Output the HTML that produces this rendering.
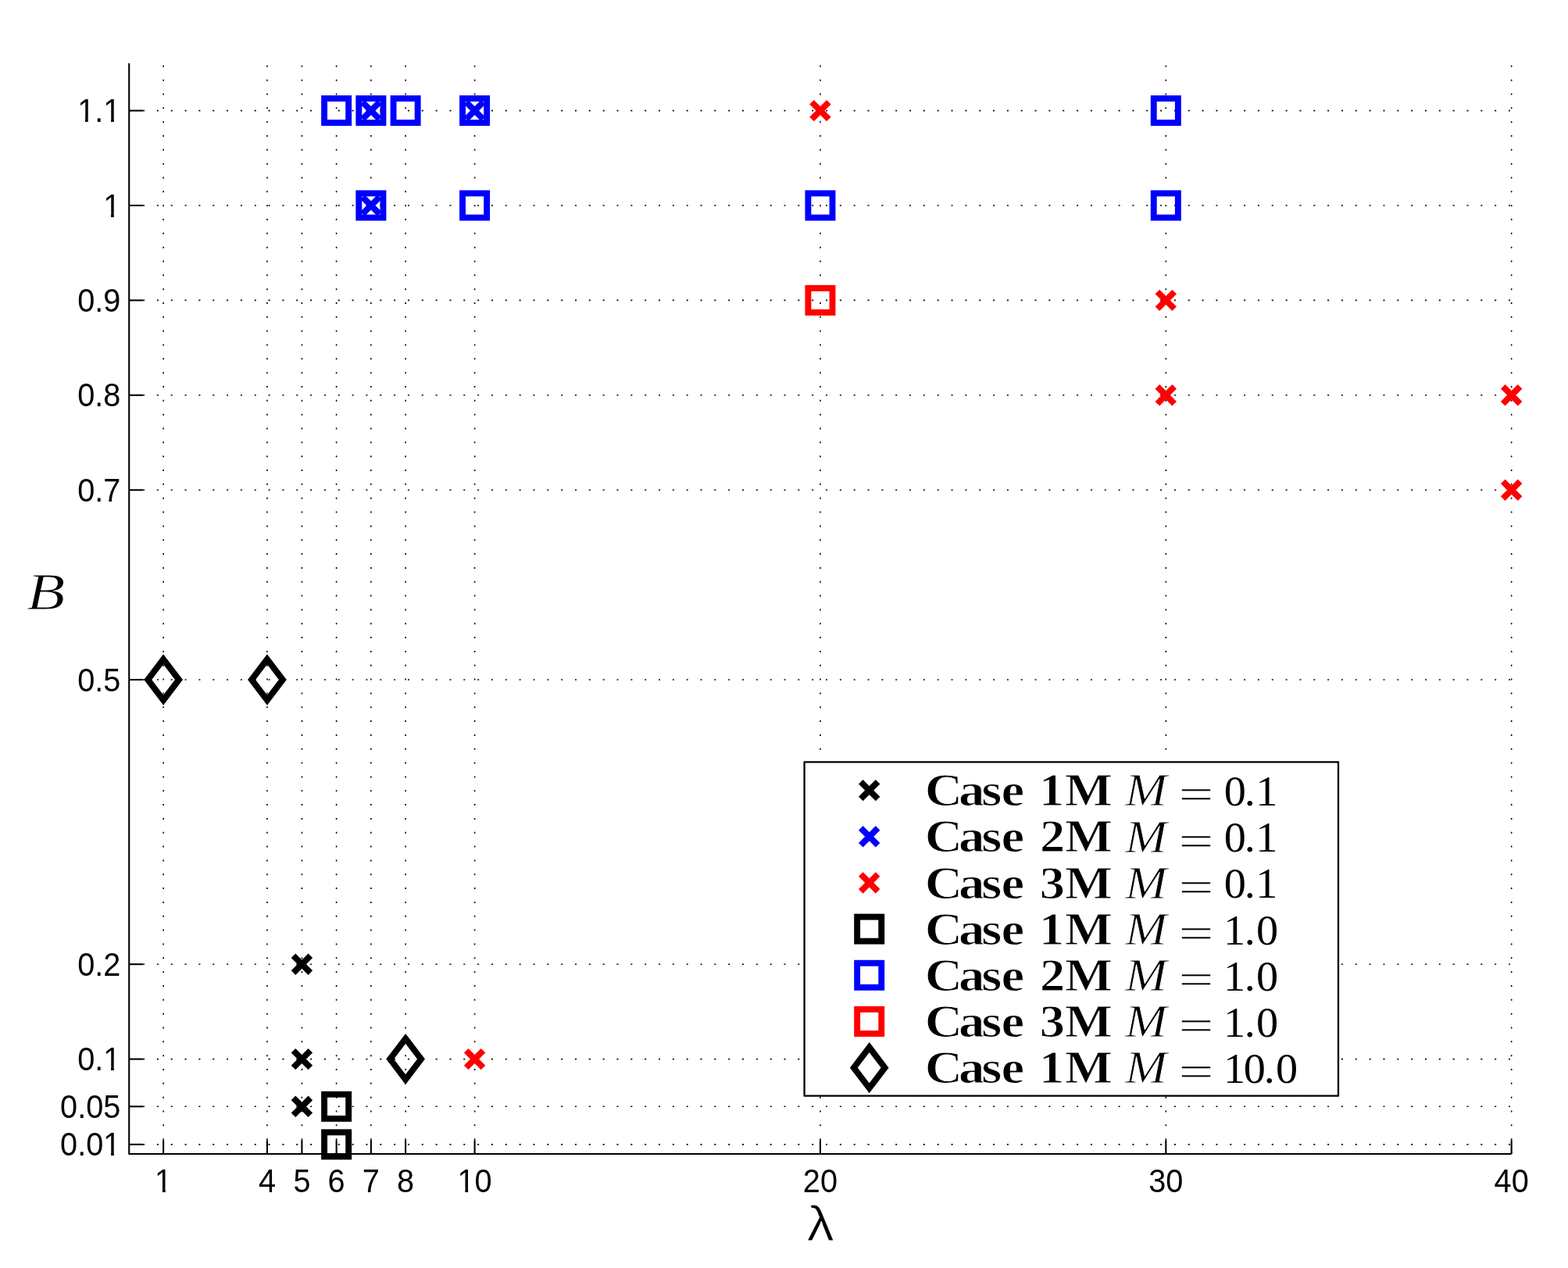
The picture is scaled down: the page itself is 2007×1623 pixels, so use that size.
<!DOCTYPE html>
<html lang="en"><head><meta charset="utf-8"><title>B versus λ</title>
<style>html,body{margin:0;padding:0;background:#fff;}svg{display:block;}.tk{font-family:"Liberation Sans",sans-serif;font-size:42.6px;fill:#000;}.bf{font-family:"Liberation Serif",serif;font-weight:bold;fill:#000;}.rm{font-family:"Liberation Serif",serif;fill:#000;}.it{font-family:"Liberation Serif",serif;font-style:italic;fill:#000;}.sf{font-family:"Liberation Sans",sans-serif;fill:#000;}</style></head><body>
<svg width="2007" height="1623" viewBox="0 0 2007 1623">
<rect width="2007" height="1623" fill="#ffffff"/>
<g stroke="#000" stroke-width="1.6" stroke-dasharray="2 15.836" fill="none">
<line x1="209.12" y1="1477" x2="209.12" y2="80.9"/>
<line x1="341.95" y1="1477" x2="341.95" y2="80.9"/>
<line x1="386.41" y1="1477" x2="386.41" y2="80.9"/>
<line x1="430.64" y1="1477" x2="430.64" y2="80.9"/>
<line x1="474.88" y1="1477" x2="474.88" y2="80.9"/>
<line x1="519.11" y1="1477" x2="519.11" y2="80.9"/>
<line x1="607.59" y1="1477" x2="607.59" y2="80.9"/>
<line x1="1049.94" y1="1477" x2="1049.94" y2="80.9"/>
<line x1="1492.3" y1="1477" x2="1492.3" y2="80.9"/>
<line x1="1934.65" y1="1477" x2="1934.65" y2="80.9"/>
<line x1="165.23" y1="1464.86" x2="1934.65" y2="1464.86"/>
<line x1="165.23" y1="1416.3" x2="1934.65" y2="1416.3"/>
<line x1="165.23" y1="1355.6" x2="1934.65" y2="1355.6"/>
<line x1="165.23" y1="1234.2" x2="1934.65" y2="1234.2"/>
<line x1="165.23" y1="870" x2="1934.65" y2="870"/>
<line x1="165.23" y1="627.2" x2="1934.65" y2="627.2"/>
<line x1="165.23" y1="505.8" x2="1934.65" y2="505.8"/>
<line x1="165.23" y1="384.4" x2="1934.65" y2="384.4"/>
<line x1="165.23" y1="263" x2="1934.65" y2="263"/>
<line x1="165.23" y1="141.6" x2="1934.65" y2="141.6"/>
</g>
<g stroke="#000" stroke-width="2.1" fill="none">
<path d="M165.23 80.9L165.23 1477L1934.65 1477" stroke-linejoin="round"/>
<line x1="209.12" y1="1477" x2="209.12" y2="1459.3"/>
<line x1="341.95" y1="1477" x2="341.95" y2="1459.3"/>
<line x1="386.41" y1="1477" x2="386.41" y2="1459.3"/>
<line x1="430.64" y1="1477" x2="430.64" y2="1459.3"/>
<line x1="474.88" y1="1477" x2="474.88" y2="1459.3"/>
<line x1="519.11" y1="1477" x2="519.11" y2="1459.3"/>
<line x1="607.59" y1="1477" x2="607.59" y2="1459.3"/>
<line x1="1049.94" y1="1477" x2="1049.94" y2="1459.3"/>
<line x1="1492.3" y1="1477" x2="1492.3" y2="1459.3"/>
<line x1="1934.65" y1="1477" x2="1934.65" y2="1459.3"/>
<line x1="165.23" y1="1464.86" x2="182.93" y2="1464.86"/>
<line x1="165.23" y1="1416.3" x2="182.93" y2="1416.3"/>
<line x1="165.23" y1="1355.6" x2="182.93" y2="1355.6"/>
<line x1="165.23" y1="1234.2" x2="182.93" y2="1234.2"/>
<line x1="165.23" y1="870" x2="182.93" y2="870"/>
<line x1="165.23" y1="627.2" x2="182.93" y2="627.2"/>
<line x1="165.23" y1="505.8" x2="182.93" y2="505.8"/>
<line x1="165.23" y1="384.4" x2="182.93" y2="384.4"/>
<line x1="165.23" y1="263" x2="182.93" y2="263"/>
<line x1="165.23" y1="141.6" x2="182.93" y2="141.6"/>
</g>
<g class="tk">
<text transform="translate(154.3 1479.41) scale(0.9320 1)" text-anchor="end">0.01</text>
<text transform="translate(154.3 1430.85) scale(0.9320 1)" text-anchor="end">0.05</text>
<text transform="translate(154.3 1370.15) scale(0.9320 1)" text-anchor="end">0.1</text>
<text transform="translate(154.3 1248.75) scale(0.9320 1)" text-anchor="end">0.2</text>
<text transform="translate(154.3 884.55) scale(0.9320 1)" text-anchor="end">0.5</text>
<text transform="translate(154.3 641.75) scale(0.9320 1)" text-anchor="end">0.7</text>
<text transform="translate(154.3 520.35) scale(0.9320 1)" text-anchor="end">0.8</text>
<text transform="translate(154.3 398.95) scale(0.9320 1)" text-anchor="end">0.9</text>
<text transform="translate(154.3 277.55) scale(0.9320 1)" text-anchor="end">1</text>
<text transform="translate(154.3 156.15) scale(0.9320 1)" text-anchor="end">1.1</text>
<text transform="translate(209.12 1525.6) scale(0.9320 1)" text-anchor="middle">1</text>
<text transform="translate(341.95 1525.6) scale(0.9320 1)" text-anchor="middle">4</text>
<text transform="translate(386.41 1525.6) scale(0.9320 1)" text-anchor="middle">5</text>
<text transform="translate(430.64 1525.6) scale(0.9320 1)" text-anchor="middle">6</text>
<text transform="translate(474.88 1525.6) scale(0.9320 1)" text-anchor="middle">7</text>
<text transform="translate(519.11 1525.6) scale(0.9320 1)" text-anchor="middle">8</text>
<text transform="translate(607.59 1525.6) scale(0.9320 1)" text-anchor="middle">10</text>
<text transform="translate(1049.94 1525.6) scale(0.9320 1)" text-anchor="middle">20</text>
<text transform="translate(1492.3 1525.6) scale(0.9320 1)" text-anchor="middle">30</text>
<text transform="translate(1934.65 1525.6) scale(0.9320 1)" text-anchor="middle">40</text>
</g>
<g fill="#ffffff">
<rect x="134.16" y="1474.53" width="7.9" height="6.08"/>
<rect x="145.86" y="1474.53" width="7.83" height="6.08"/>
<rect x="134.16" y="1365.27" width="7.9" height="6.08"/>
<rect x="145.86" y="1365.27" width="7.83" height="6.08"/>
<rect x="134.16" y="272.67" width="7.9" height="6.08"/>
<rect x="145.86" y="272.67" width="7.83" height="6.08"/>
<rect x="101.05" y="151.27" width="7.9" height="6.08"/>
<rect x="112.75" y="151.27" width="7.83" height="6.08"/>
<rect x="134.16" y="151.27" width="7.9" height="6.08"/>
<rect x="145.86" y="151.27" width="7.83" height="6.08"/>
<rect x="200.02" y="1520.72" width="7.9" height="6.08"/>
<rect x="211.72" y="1520.72" width="7.83" height="6.08"/>
<rect x="587.44" y="1520.72" width="7.9" height="6.08"/>
<rect x="599.15" y="1520.72" width="7.83" height="6.08"/>
</g>
<g>
<path d="M375.51 1223.3L397.31 1245.1M375.51 1245.1L397.31 1223.3" stroke="#000000" stroke-width="7.9" fill="none"/>
<path d="M375.51 1344.7L397.31 1366.5M375.51 1366.5L397.31 1344.7" stroke="#000000" stroke-width="7.9" fill="none"/>
<path d="M375.51 1405.4L397.31 1427.2M375.51 1427.2L397.31 1405.4" stroke="#000000" stroke-width="7.9" fill="none"/>
<path d="M463.98 130.7L485.78 152.5M463.98 152.5L485.78 130.7" stroke="#0000ff" stroke-width="7.9" fill="none"/>
<path d="M596.69 130.7L618.49 152.5M596.69 152.5L618.49 130.7" stroke="#0000ff" stroke-width="7.9" fill="none"/>
<path d="M463.98 252.1L485.78 273.9M463.98 273.9L485.78 252.1" stroke="#0000ff" stroke-width="7.9" fill="none"/>
<path d="M1039.04 130.7L1060.84 152.5M1039.04 152.5L1060.84 130.7" stroke="#ff0000" stroke-width="7.9" fill="none"/>
<path d="M1481.39 373.5L1503.2 395.3M1481.39 395.3L1503.2 373.5" stroke="#ff0000" stroke-width="7.9" fill="none"/>
<path d="M1481.39 494.9L1503.2 516.7M1481.39 516.7L1503.2 494.9" stroke="#ff0000" stroke-width="7.9" fill="none"/>
<path d="M1923.75 494.9L1945.55 516.7M1923.75 516.7L1945.55 494.9" stroke="#ff0000" stroke-width="7.9" fill="none"/>
<path d="M1923.75 616.3L1945.55 638.1M1923.75 638.1L1945.55 616.3" stroke="#ff0000" stroke-width="7.9" fill="none"/>
<path d="M596.69 1344.7L618.49 1366.5M596.69 1366.5L618.49 1344.7" stroke="#ff0000" stroke-width="7.9" fill="none"/>
<rect x="415.09" y="1400.75" width="31.1" height="31.1" stroke="#000000" stroke-width="7.9" fill="none"/>
<rect x="415.09" y="1449.31" width="31.1" height="31.1" stroke="#000000" stroke-width="7.9" fill="none"/>
<rect x="415.09" y="126.05" width="31.1" height="31.1" stroke="#0000ff" stroke-width="7.9" fill="none"/>
<rect x="459.33" y="126.05" width="31.1" height="31.1" stroke="#0000ff" stroke-width="7.9" fill="none"/>
<rect x="503.56" y="126.05" width="31.1" height="31.1" stroke="#0000ff" stroke-width="7.9" fill="none"/>
<rect x="592.04" y="126.05" width="31.1" height="31.1" stroke="#0000ff" stroke-width="7.9" fill="none"/>
<rect x="1476.75" y="126.05" width="31.1" height="31.1" stroke="#0000ff" stroke-width="7.9" fill="none"/>
<rect x="459.33" y="247.45" width="31.1" height="31.1" stroke="#0000ff" stroke-width="7.9" fill="none"/>
<rect x="592.04" y="247.45" width="31.1" height="31.1" stroke="#0000ff" stroke-width="7.9" fill="none"/>
<rect x="1034.39" y="247.45" width="31.1" height="31.1" stroke="#0000ff" stroke-width="7.9" fill="none"/>
<rect x="1476.75" y="247.45" width="31.1" height="31.1" stroke="#0000ff" stroke-width="7.9" fill="none"/>
<rect x="1034.39" y="368.85" width="31.1" height="31.1" stroke="#ff0000" stroke-width="7.9" fill="none"/>
<path d="M209.12 843.85L229.02 870L209.12 896.15L189.22 870Z" stroke="#000000" stroke-width="7.9" stroke-miterlimit="10" fill="none"/>
<path d="M341.95 843.85L361.85 870L341.95 896.15L322.05 870Z" stroke="#000000" stroke-width="7.9" stroke-miterlimit="10" fill="none"/>
<path d="M519.11 1329.45L539.01 1355.6L519.11 1381.75L499.21 1355.6Z" stroke="#000000" stroke-width="7.9" stroke-miterlimit="10" fill="none"/>
</g>
<text class="it" font-size="67.9" transform="translate(0 780.2) scale(1.1900 1.0000)" x="28.61" stroke="#ffffff" stroke-width="0.9" stroke-linejoin="round">B</text>
<text class="sf" font-size="63" transform="translate(0 1588.4) scale(1.1100 1.0000)" x="930.47" stroke="#ffffff" stroke-width="0.9" stroke-linejoin="round">λ</text>
<rect x="1029.57" y="975.31" width="683.43" height="427.39" fill="#fff" stroke="#000" stroke-width="2.3" stroke-linejoin="round"/>
<path d="M1101.8 1000.72L1123.6 1022.52M1101.8 1022.52L1123.6 1000.72" stroke="#000000" stroke-width="7.9" fill="none"/>
<text class="bf" font-size="59.2" transform="translate(0 1031.32) scale(1.1300 1.0000)" x="1047.54 1085.87 1111.72 1134.11" stroke="#ffffff" stroke-width="1" stroke-linejoin="round">Case</text>
<text class="bf" font-size="59.2" transform="translate(0 1031.32) scale(1.0900 1.0000)" x="1220.17 1250.54" stroke="#ffffff" stroke-width="1" stroke-linejoin="round">1M</text>
<text class="it" font-size="59.4" transform="translate(0 1031.42) scale(1.0800 1.0000)" x="1333.55" stroke="#ffffff" stroke-width="0.8" stroke-linejoin="round">M</text>
<text class="rm" font-size="54.8" transform="translate(0 1035.37) scale(1.4550 1.0000)" x="1036.86" stroke="#ffffff" stroke-width="0.45" stroke-linejoin="round">=</text>
<text class="rm" font-size="54.6" transform="translate(0 1031.02) scale(1.0300 1.0000)" x="1521.23 1546.34 1560.43">0.1</text>
<path d="M1101.8 1059.89L1123.6 1081.69M1101.8 1081.69L1123.6 1059.89" stroke="#0000ff" stroke-width="7.9" fill="none"/>
<text class="bf" font-size="59.2" transform="translate(0 1090.49) scale(1.1300 1.0000)" x="1047.54 1085.87 1111.72 1134.11" stroke="#ffffff" stroke-width="1" stroke-linejoin="round">Case</text>
<text class="bf" font-size="59.2" transform="translate(0 1090.49) scale(1.0900 1.0000)" x="1221.01 1250.54" stroke="#ffffff" stroke-width="1" stroke-linejoin="round">2M</text>
<text class="it" font-size="59.4" transform="translate(0 1090.59) scale(1.0800 1.0000)" x="1333.55" stroke="#ffffff" stroke-width="0.8" stroke-linejoin="round">M</text>
<text class="rm" font-size="54.8" transform="translate(0 1094.54) scale(1.4550 1.0000)" x="1036.86" stroke="#ffffff" stroke-width="0.45" stroke-linejoin="round">=</text>
<text class="rm" font-size="54.6" transform="translate(0 1090.19) scale(1.0300 1.0000)" x="1521.23 1546.34 1560.43">0.1</text>
<path d="M1101.8 1119.06L1123.6 1140.86M1101.8 1140.86L1123.6 1119.06" stroke="#ff0000" stroke-width="7.9" fill="none"/>
<text class="bf" font-size="59.2" transform="translate(0 1149.66) scale(1.1300 1.0000)" x="1047.54 1085.87 1111.72 1134.11" stroke="#ffffff" stroke-width="1" stroke-linejoin="round">Case</text>
<text class="bf" font-size="59.2" transform="translate(0 1149.66) scale(1.0900 1.0000)" x="1220.79 1250.54" stroke="#ffffff" stroke-width="1" stroke-linejoin="round">3M</text>
<text class="it" font-size="59.4" transform="translate(0 1149.76) scale(1.0800 1.0000)" x="1333.55" stroke="#ffffff" stroke-width="0.8" stroke-linejoin="round">M</text>
<text class="rm" font-size="54.8" transform="translate(0 1153.71) scale(1.4550 1.0000)" x="1036.86" stroke="#ffffff" stroke-width="0.45" stroke-linejoin="round">=</text>
<text class="rm" font-size="54.6" transform="translate(0 1149.36) scale(1.0300 1.0000)" x="1521.23 1546.34 1560.43">0.1</text>
<rect x="1097.15" y="1173.58" width="31.1" height="31.1" stroke="#000000" stroke-width="7.9" fill="none"/>
<text class="bf" font-size="59.2" transform="translate(0 1208.83) scale(1.1300 1.0000)" x="1047.54 1085.87 1111.72 1134.11" stroke="#ffffff" stroke-width="1" stroke-linejoin="round">Case</text>
<text class="bf" font-size="59.2" transform="translate(0 1208.83) scale(1.0900 1.0000)" x="1220.17 1250.54" stroke="#ffffff" stroke-width="1" stroke-linejoin="round">1M</text>
<text class="it" font-size="59.4" transform="translate(0 1208.93) scale(1.0800 1.0000)" x="1333.55" stroke="#ffffff" stroke-width="0.8" stroke-linejoin="round">M</text>
<text class="rm" font-size="54.8" transform="translate(0 1212.88) scale(1.4550 1.0000)" x="1036.86" stroke="#ffffff" stroke-width="0.45" stroke-linejoin="round">=</text>
<text class="rm" font-size="54.6" transform="translate(0 1208.53) scale(1.0300 1.0000)" x="1520.47 1546.33 1561.16">1.0</text>
<rect x="1097.15" y="1232.75" width="31.1" height="31.1" stroke="#0000ff" stroke-width="7.9" fill="none"/>
<text class="bf" font-size="59.2" transform="translate(0 1268) scale(1.1300 1.0000)" x="1047.54 1085.87 1111.72 1134.11" stroke="#ffffff" stroke-width="1" stroke-linejoin="round">Case</text>
<text class="bf" font-size="59.2" transform="translate(0 1268) scale(1.0900 1.0000)" x="1221.01 1250.54" stroke="#ffffff" stroke-width="1" stroke-linejoin="round">2M</text>
<text class="it" font-size="59.4" transform="translate(0 1268.1) scale(1.0800 1.0000)" x="1333.55" stroke="#ffffff" stroke-width="0.8" stroke-linejoin="round">M</text>
<text class="rm" font-size="54.8" transform="translate(0 1272.05) scale(1.4550 1.0000)" x="1036.86" stroke="#ffffff" stroke-width="0.45" stroke-linejoin="round">=</text>
<text class="rm" font-size="54.6" transform="translate(0 1267.7) scale(1.0300 1.0000)" x="1520.47 1546.33 1561.16">1.0</text>
<rect x="1097.15" y="1291.92" width="31.1" height="31.1" stroke="#ff0000" stroke-width="7.9" fill="none"/>
<text class="bf" font-size="59.2" transform="translate(0 1327.17) scale(1.1300 1.0000)" x="1047.54 1085.87 1111.72 1134.11" stroke="#ffffff" stroke-width="1" stroke-linejoin="round">Case</text>
<text class="bf" font-size="59.2" transform="translate(0 1327.17) scale(1.0900 1.0000)" x="1220.79 1250.54" stroke="#ffffff" stroke-width="1" stroke-linejoin="round">3M</text>
<text class="it" font-size="59.4" transform="translate(0 1327.27) scale(1.0800 1.0000)" x="1333.55" stroke="#ffffff" stroke-width="0.8" stroke-linejoin="round">M</text>
<text class="rm" font-size="54.8" transform="translate(0 1331.22) scale(1.4550 1.0000)" x="1036.86" stroke="#ffffff" stroke-width="0.45" stroke-linejoin="round">=</text>
<text class="rm" font-size="54.6" transform="translate(0 1326.87) scale(1.0300 1.0000)" x="1520.47 1546.33 1561.16">1.0</text>
<path d="M1112.7 1340.49L1132.6 1366.64L1112.7 1392.79L1092.8 1366.64Z" stroke="#000000" stroke-width="7.9" stroke-miterlimit="10" fill="none"/>
<text class="bf" font-size="59.2" transform="translate(0 1386.34) scale(1.1300 1.0000)" x="1047.54 1085.87 1111.72 1134.11" stroke="#ffffff" stroke-width="1" stroke-linejoin="round">Case</text>
<text class="bf" font-size="59.2" transform="translate(0 1386.34) scale(1.0900 1.0000)" x="1220.17 1250.54" stroke="#ffffff" stroke-width="1" stroke-linejoin="round">1M</text>
<text class="it" font-size="59.4" transform="translate(0 1386.44) scale(1.0800 1.0000)" x="1333.55" stroke="#ffffff" stroke-width="0.8" stroke-linejoin="round">M</text>
<text class="rm" font-size="54.8" transform="translate(0 1390.39) scale(1.4550 1.0000)" x="1036.86" stroke="#ffffff" stroke-width="0.45" stroke-linejoin="round">=</text>
<text class="rm" font-size="54.6" transform="translate(0 1386.04) scale(1.0300 1.0000)" x="1520.47 1545.50 1570.57 1585.37">10.0</text>
</svg></body></html>
